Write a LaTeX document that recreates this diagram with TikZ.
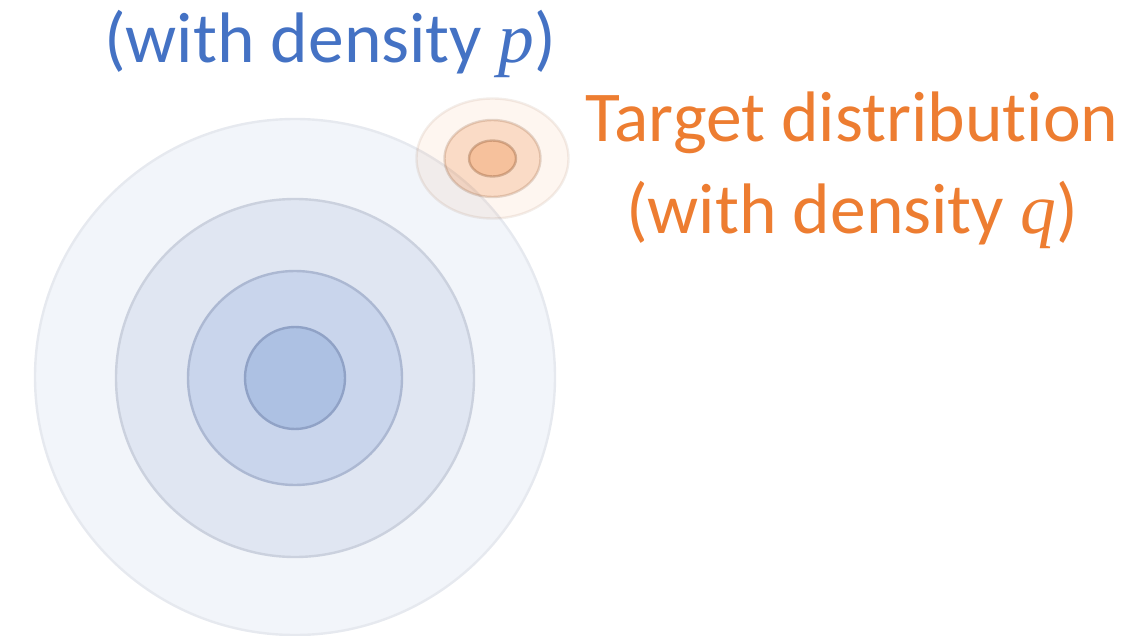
\documentclass[tikz,border=0pt]{standalone}
\usepackage{fontspec}
\setmainfont{Carlito}[RawFeature=-liga]
\newfontfamily\varfont{Liberation Serif}
\newcommand{\vari}[1]{{\varfont\itshape #1}}
\definecolor{pblue}{HTML}{4472C4}
\definecolor{qorange}{HTML}{ED7D31}
\definecolor{bfA}{HTML}{F2F5FA}
\definecolor{bfB}{HTML}{E0E6F2}
\definecolor{bfC}{HTML}{C9D5EC}
\definecolor{bfD}{HTML}{ADC1E3}
\definecolor{bdA}{HTML}{E6E9EF}
\definecolor{bdB}{HTML}{CBD1DE}
\definecolor{bdC}{HTML}{ACB8D2}
\definecolor{bdD}{HTML}{90A2C6}
\definecolor{odark}{HTML}{8A5530}
\tikzset{
  bring/.style={line width=2.4pt},
  oring/.style={line width=2.4pt, fill=qorange, draw=odark},
  lbl/.style={inner sep=0pt, anchor=base, font=\fontsize{71.5}{90}\selectfont}
}
\begin{document}
\begin{tikzpicture}[x=1pt,y=-1pt]
\useasboundingbox (0,0) rectangle (1129,636);
\clip (0,0) rectangle (1129,636);
% source distribution (blue)
\draw[bring, fill=bfA, draw=bdA] (295,377) ellipse [x radius=260, y radius=258];
\draw[bring, fill=bfB, draw=bdB] (295,378) ellipse [x radius=179, y radius=179];
\draw[bring, fill=bfC, draw=bdC] (295,378) ellipse [x radius=107, y radius=107];
\draw[bring, fill=bfD, draw=bdD] (295,378) ellipse [x radius=50, y radius=51];
% target distribution (orange)
\draw[oring, fill opacity=0.07, draw opacity=0.10] (492.5,158.5) ellipse [x radius=76, y radius=60];
\draw[oring, fill opacity=0.22, draw opacity=0.22] (492.5,158.5) ellipse [x radius=48, y radius=38.5];
\draw[oring, fill opacity=0.28, draw opacity=0.35] (492.5,158.5) ellipse [x radius=23.5, y radius=18];
% labels
\node[lbl, text=pblue] (src) at (330,63) {(with density \vari{p})};
\node[lbl, text=qorange] (tgt1) at (852,142) {Target distribution};
\node[lbl, text=qorange] (tgt2) at (852,234) {(with density \vari{q})};
\end{tikzpicture}
\end{document}
